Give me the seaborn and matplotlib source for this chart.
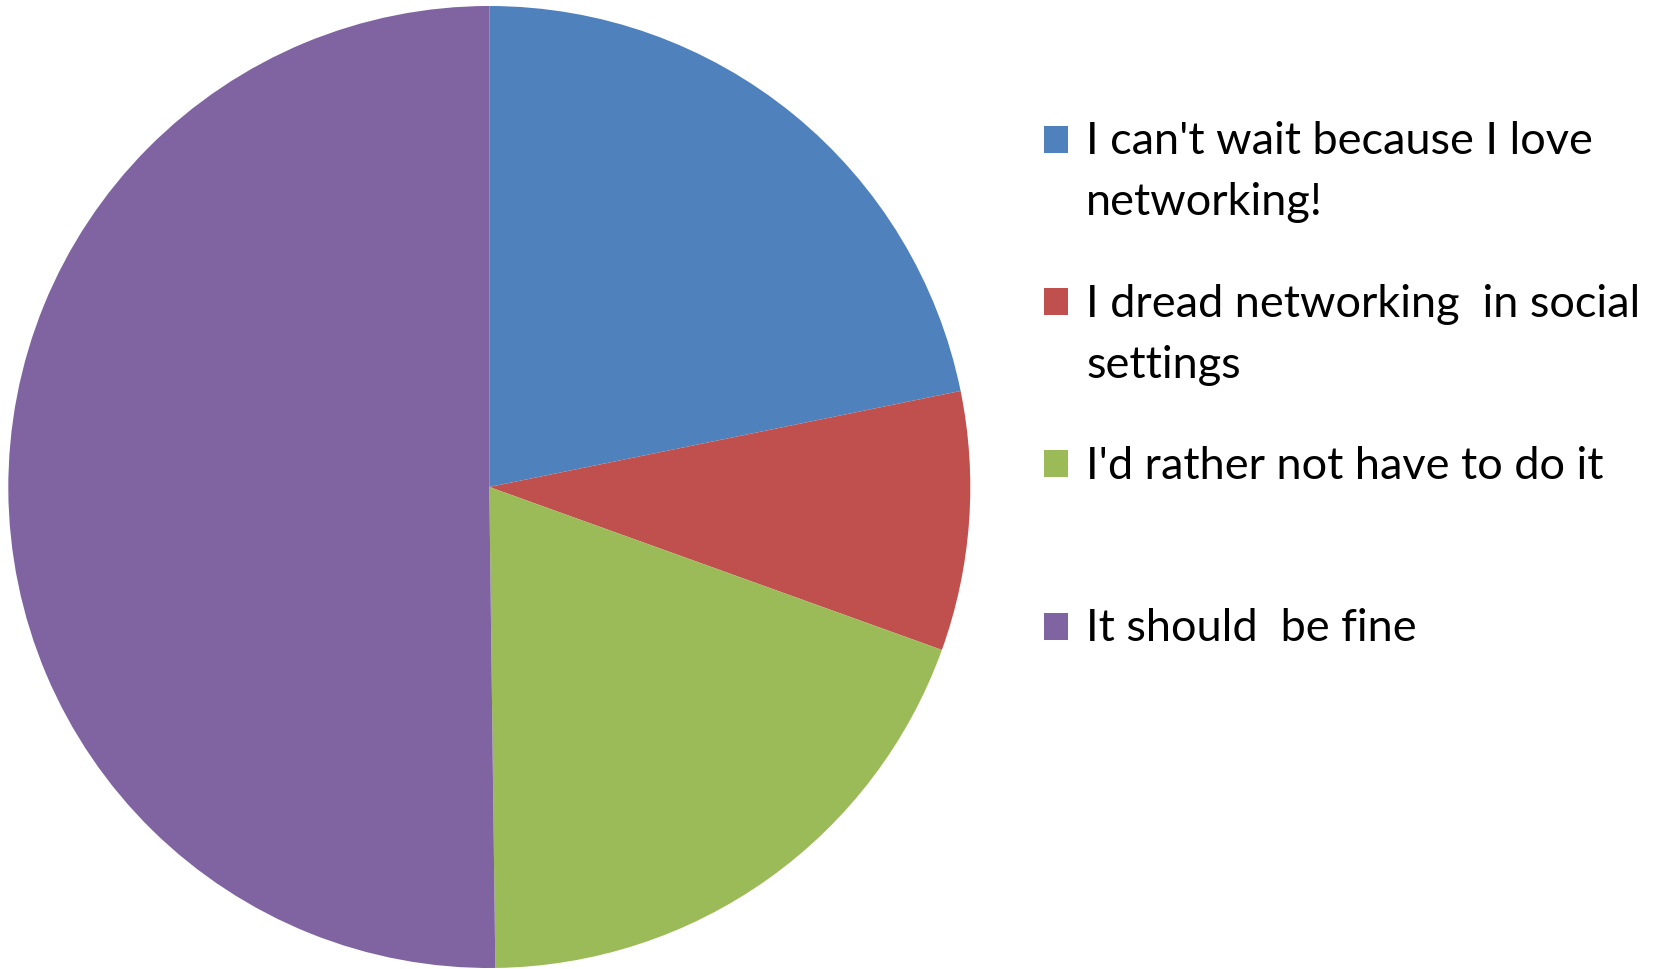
import matplotlib
matplotlib.use("Agg")
import matplotlib.pyplot as plt
from matplotlib.patches import Rectangle
import seaborn as sns

categories = ["I can't wait because I love\nnetworking!",
              "I dread networking  in social\nsettings",
              "I'd rather not have to do it",
              "It should  be fine"]
values = [21.8, 8.7, 19.3, 50.2]
colors = ["#4F81BD", "#C0504D", "#9BBB59", "#8064A2"]

sns.set_theme(style="white")
plt.rcParams['font.family'] = ['Lato', 'DejaVu Sans']

W, H = 1657, 969
fig = plt.figure(figsize=(W / 100, H / 100), dpi=100)
cx, cy, R = 489.3, 487.0, 481.0
ax = fig.add_axes([(cx - R) / W, (H - cy - R) / H, 2 * R / W, 2 * R / H])
ax.pie(values, colors=colors, startangle=90, counterclock=False,
       wedgeprops=dict(linewidth=0, antialiased=True))
ax.set_xlim(-1, 1)
ax.set_ylim(-1, 1)
ax.set_aspect('equal')
ax.axis('off')

# legend drawn manually to match the spacing
marker_tops = [126, 288, 450, 613]
baselines = [154, 317, 479, 641]
line_gap = 61
for cat, col, mt, bl in zip(categories, colors, marker_tops, baselines):
    fig.add_artist(Rectangle((1044 / W, 1 - (mt + 27) / H), 24 / W, 27 / H,
                             transform=fig.transFigure, facecolor=col,
                             edgecolor='none'))
    for i, line in enumerate(cat.split("\n")):
        fig.text(1086 / W, 1 - (bl + i * line_gap) / H, line,
                 fontsize=32.5, color="black", va='baseline', ha='left')

fig.savefig("out.png", dpi=100, facecolor="white")
